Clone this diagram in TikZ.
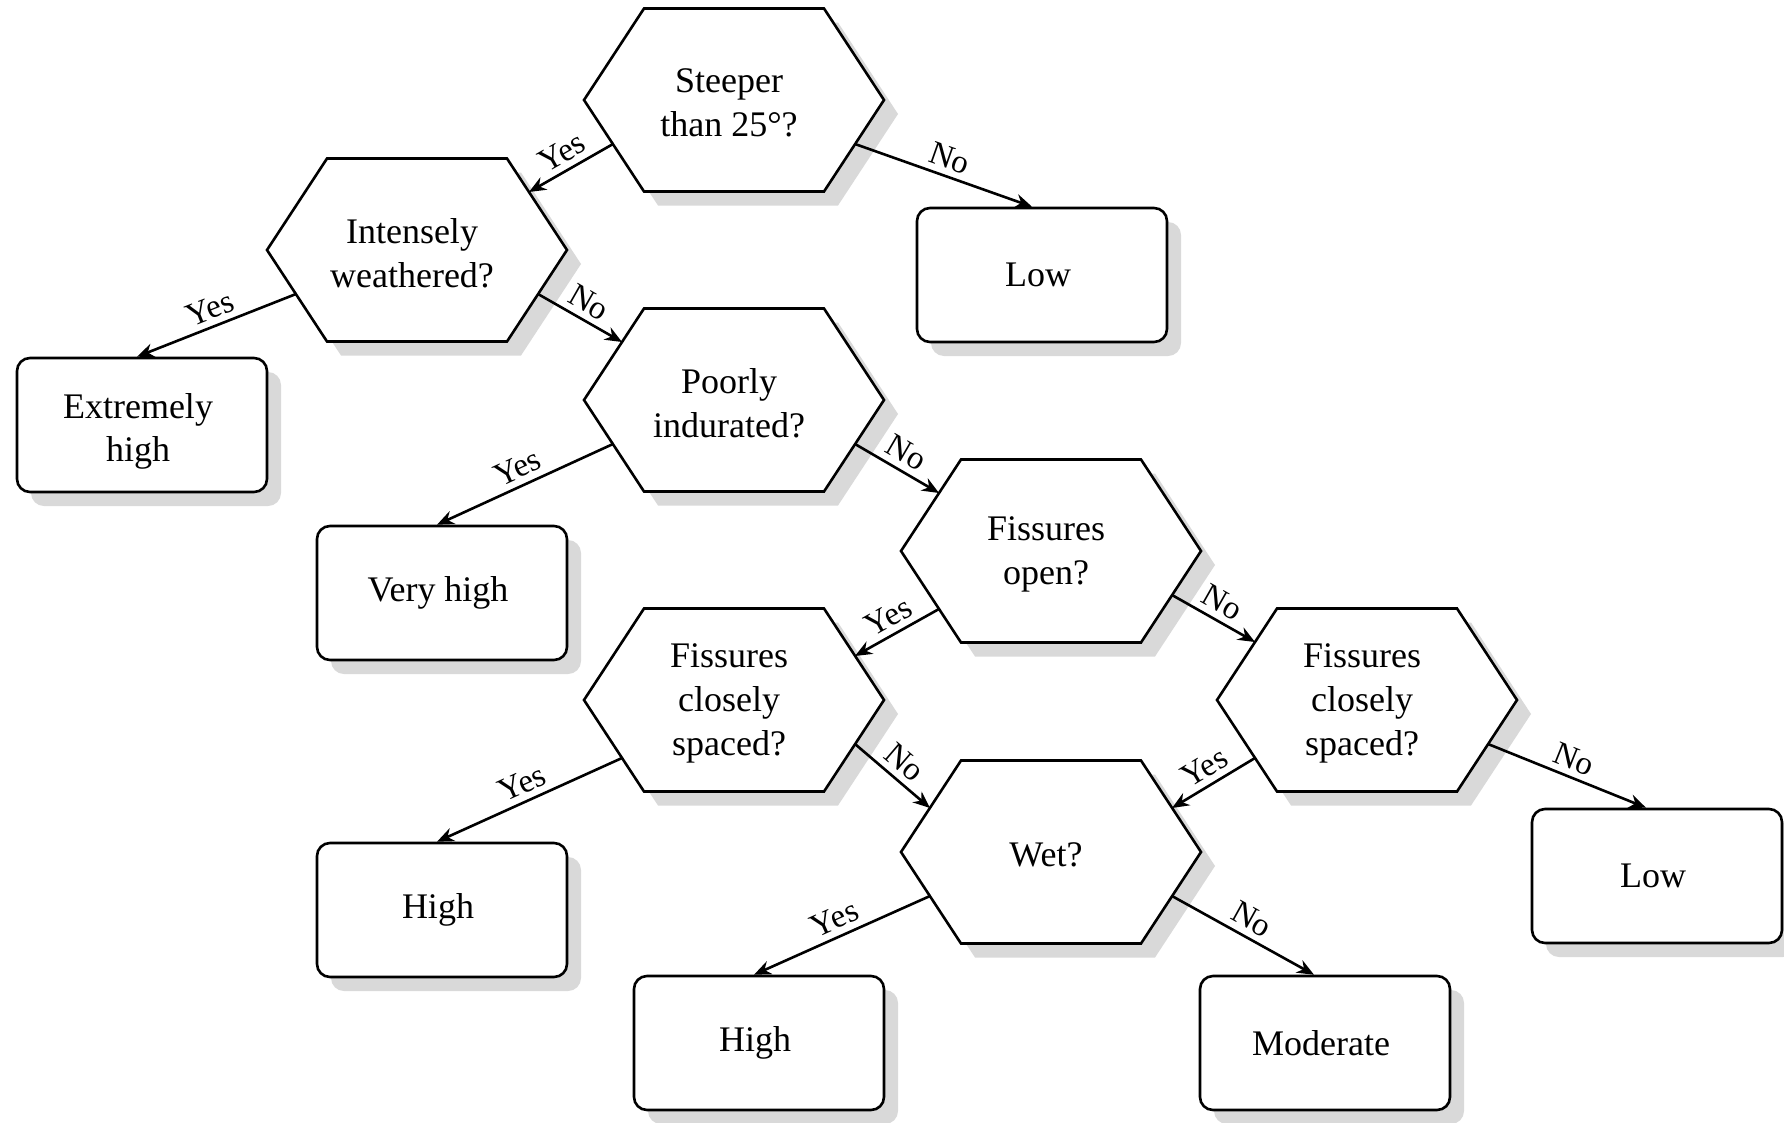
\documentclass[tikz,border=0pt]{standalone}
\usepackage{fontspec}
\setmainfont{Liberation Serif}
\usetikzlibrary{calc,arrows.meta,shadows}
\tikzset{
  qtext/.style={shape=rectangle, align=center, inner sep=0pt, xshift=-5pt, yshift=-3pt, font=\fontsize{36}{44}\selectfont},
  resbox/.style={shape=rectangle, rounded corners=13pt, minimum width=250pt, minimum height=134pt, draw=black, line width=2.6pt, fill=white, align=center, font=\fontsize{36}{44}\selectfont,
    drop shadow={shadow xshift=14pt, shadow yshift=-14pt, fill=black!15, opacity=1}},
  restext/.style={align=center, inner sep=0pt, xshift=-4pt, font=\fontsize{36}{43}\selectfont},
  hexline/.style={draw=black, line width=2.6pt, fill=white, line join=miter},
  shadowfill/.style={fill=black!15},
  arr/.style={line width=2.6pt, -{Stealth[length=17pt,width=14pt]}},
  lab/.style={font=\fontsize{33}{33}\selectfont, sloped, above, midway, inner sep=6pt},
}
\newcommand\hexq[3]{%
  \begin{scope}[shift={#2}]
    \fill[shadowfill] (-136,14) -- (-76,-77.5) -- (104,-77.5) -- (164,14) -- (104,105.5) -- (-76,105.5) -- cycle;
    \path[hexline] (-150,0) -- (-90,-91.5) -- (90,-91.5) -- (150,0) -- (90,91.5) -- (-90,91.5) -- cycle;
  \end{scope}
  \coordinate (#1) at #2;
  \node[qtext] (#1-t) at #2 {#3};
}
\newcommand\resq[4][0pt]{%
  \node[resbox] (#2) at #3 {};
  \node[restext, yshift=#1] (#2-t) at (#2) {#4};
}
\begin{document}
\begin{tikzpicture}[x=1pt,y=-1pt]
\useasboundingbox[fill=white] (0,0) rectangle (1784,1122);

% questions
\hexq{steep}{(734,100)}{Steeper\\than 25°?}
\hexq{weath}{(417,250)}{Intensely\\weathered?}
\hexq{indur}{(734,400)}{Poorly\\indurated?}
\hexq{fopen}{(1051,551)}{Fissures\\open?}
\hexq{fcsL}{(734,700)}{Fissures\\closely\\spaced?}
\hexq{fcsR}{(1367,700)}{Fissures\\closely\\spaced?}
\hexq{wet}{(1051,852)}{Wet?}

% results
\resq{low1}{(1042,275)}{Low}
\resq[-6pt]{exhigh}{(142,425)}{Extremely\\high}
\resq{vhigh}{(442,593)}{Very high}
\resq{low2}{(1657,876)}{Low}
\resq{high1}{(442,910)}{High}
\resq{high2}{(759,1043)}{High}
\resq{mod}{(1325,1043)}{Moderate}

% connectors
\draw[arr] ($(steep)+(-121,44)$) -- node[lab]{Yes} ($(weath)+(112,-58)$);
\draw[arr] ($(steep)+(121,44)$) -- node[lab]{No} ($(low1.north)+(-10,0)$);
\draw[arr] ($(weath)+(-121,44)$) -- node[lab]{Yes} ($(exhigh.north)+(-5,0)$);
\draw[arr] ($(weath)+(121,44)$) -- node[lab]{No} ($(indur)+(-112,-58)$);
\draw[arr] ($(indur)+(-121,44)$) -- node[lab]{Yes} ($(vhigh.north)+(-5,0)$);
\draw[arr] ($(indur)+(121,44)$) -- node[lab]{No} ($(fopen)+(-112,-58)$);
\draw[arr] ($(fopen)+(-112,58)$) -- node[lab]{Yes} ($(fcsL)+(121,-44)$);
\draw[arr] ($(fopen)+(121,44)$) -- node[lab]{No} ($(fcsR)+(-112,-58)$);
\draw[arr] ($(fcsL)+(-112,58)$) -- node[lab]{Yes} ($(high1.north)+(-5,0)$);
\draw[arr] ($(fcsL)+(121,44)$) -- node[lab]{No} ($(wet)+(-121,-44)$);
\draw[arr] ($(fcsR)+(-112,58)$) -- node[lab]{Yes} ($(wet)+(121,-44)$);
\draw[arr] ($(fcsR)+(121,44)$) -- node[lab]{No} ($(low2.north)+(-11,0)$);
\draw[arr] ($(wet)+(-121,44)$) -- node[lab]{Yes} ($(high2.north)+(-5,0)$);
\draw[arr] ($(wet)+(121,44)$) -- node[lab]{No} ($(mod.north)+(-11,0)$);
\end{tikzpicture}
\end{document}
